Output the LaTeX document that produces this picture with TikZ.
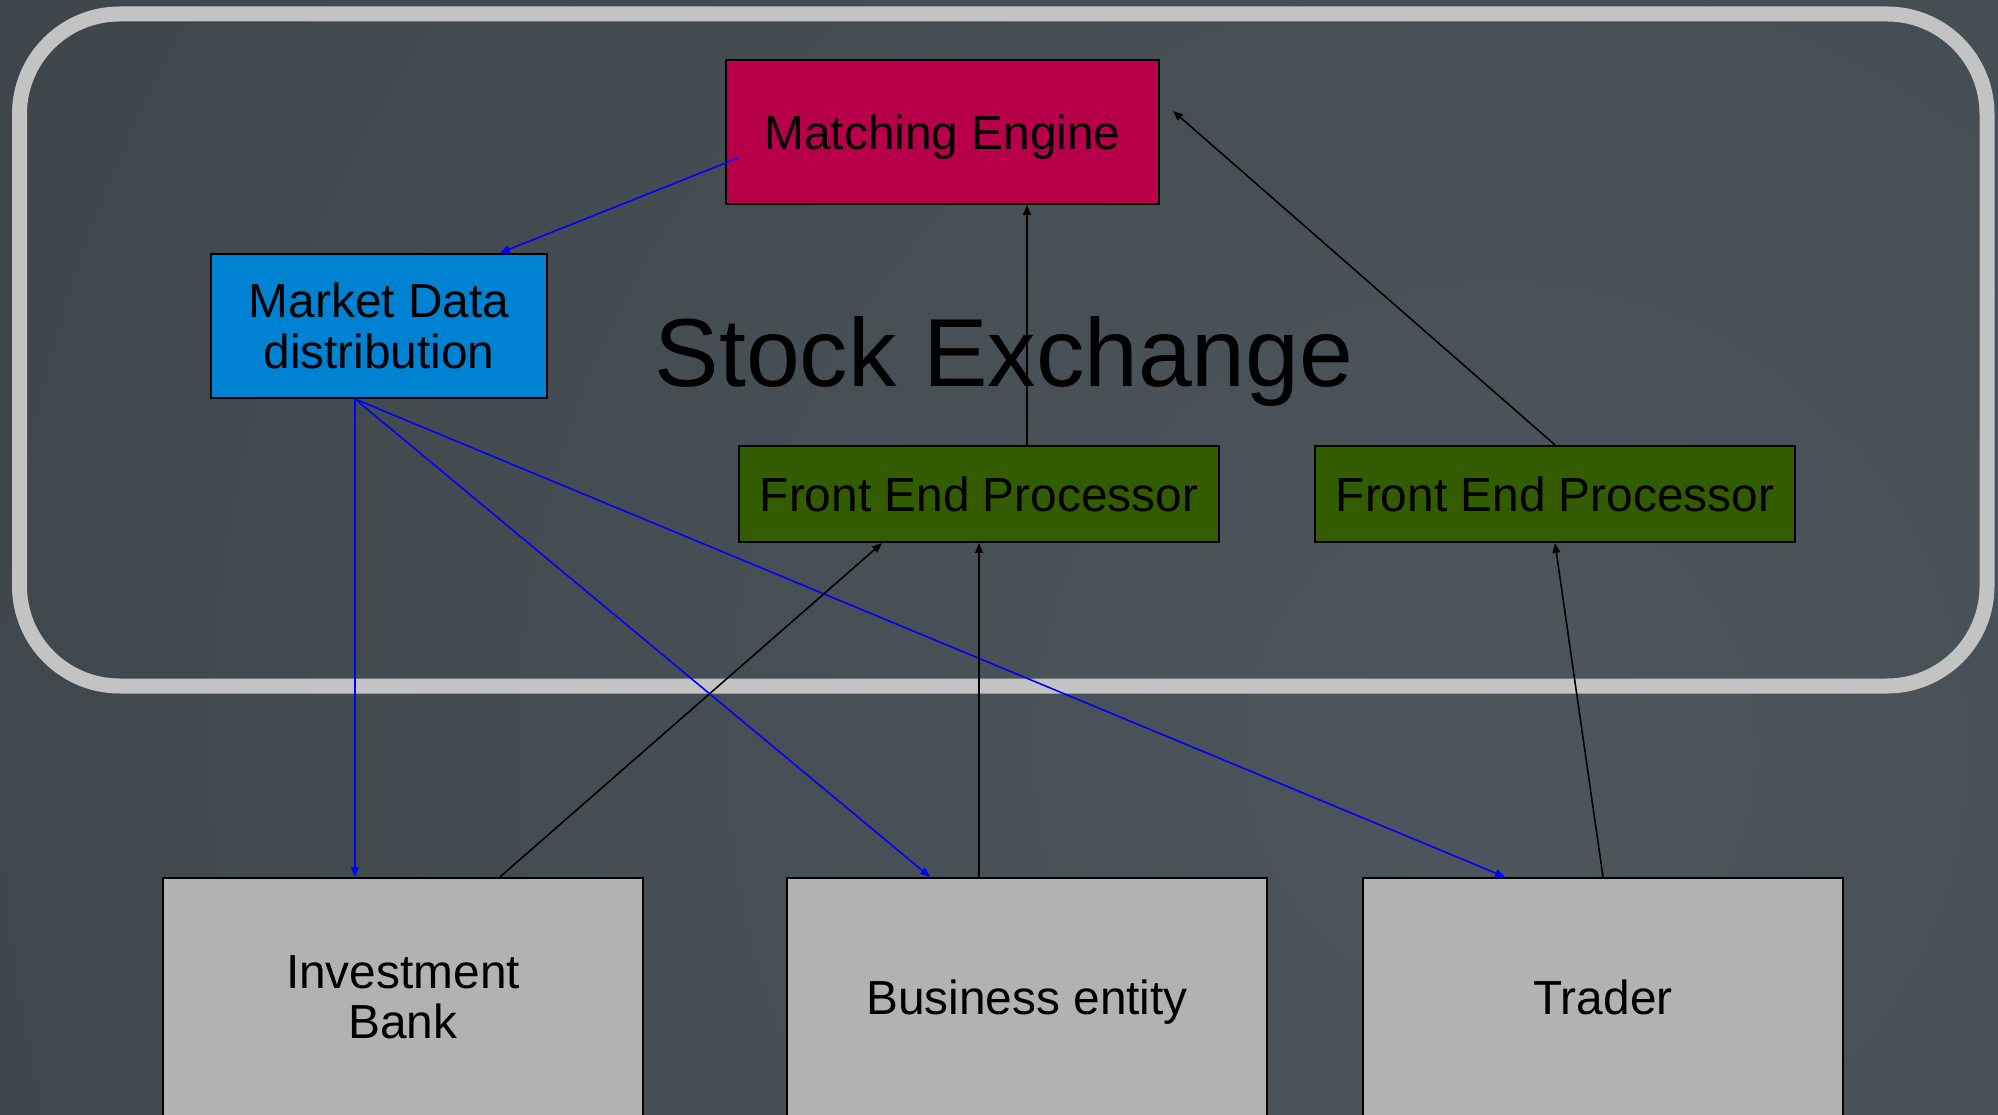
\documentclass[tikz,border=0pt]{standalone}
\usepackage{fontspec}
\setmainfont{Liberation Sans}
\usepackage{xcolor}
\usetikzlibrary{arrows.meta, calc}

\definecolor{bgdark}{HTML}{33393D}
\definecolor{bglight}{HTML}{4C565C}
\definecolor{framegray}{HTML}{C3C3C3}
\definecolor{enginered}{HTML}{B8004A}
\definecolor{feedblue}{HTML}{0082D2}
\definecolor{fepgreen}{HTML}{335C00}
\definecolor{clientgray}{HTML}{B2B2B2}

\begin{document}
\begin{tikzpicture}[
    box/.style={draw, line width=0.6pt, align=center, inner sep=0pt, font=\fontsize{13.6}{14.3}\selectfont},
    client/.style={box, fill=clientgray, minimum width=4.8cm, minimum height=2.38cm},
    fep/.style={box, fill=fepgreen, minimum width=4.8cm, minimum height=0.96cm},
    arrow/.style={-{Triangle[length=2.8pt, width=2.2pt]}, line width=0.45pt},
    feedarrow/.style={arrow, blue}
]

% Background
\useasboundingbox (0,0) rectangle (19.98,-11.15);
\clip (0,0) rectangle (19.98,-11.15);
\fill[bgdark] (0,0) rectangle (19.98,-11.15);
\shade[inner color=bglight, outer color=bgdark] (15,-7.5) circle (30);

% Exchange frame
\draw[framegray, line width=0.15cm, rounded corners=1cm] (0.195,-0.14) rectangle (19.87,-6.86);
\node[anchor=base, font=\fontsize{27.5}{30}\selectfont] (title) at (10.04,-3.87) {Stock Exchange};

% Components
\node[box, fill=enginered, minimum width=4.33cm, minimum height=1.44cm, text depth=0pt] (engine) at (9.425,-1.32) {Matching Engine};
\node[box, fill=feedblue, minimum width=3.36cm, minimum height=1.44cm] (market) at (3.79,-3.26) {Market Data\\distribution};
\node[fep] (fepA) at (9.79,-4.94) {Front End Processor};
\node[fep] (fepB) at (15.55,-4.94) {Front End Processor};

% Clients
\node[client] (bank) at (4.03,-9.97) {Investment\\Bank};
\node[client, text depth=0pt] (business) at (10.27,-9.97) {Business entity};
\node[client] (trader) at (16.03,-9.97) {Trader};

% Market data feed
\draw[feedarrow] ([shift={(0.13,-0.26)}]engine.west) -- ([xshift=1.21cm]market.north);
\draw[feedarrow] ([xshift=-0.24cm]market.south) -- ([xshift=-0.48cm]bank.north);
\draw[feedarrow] ([xshift=-0.24cm]market.south) -- ([xshift=-0.97cm]business.north);
\draw[feedarrow] ([xshift=-0.24cm]market.south) -- ([xshift=-0.98cm]trader.north);

% Orders
\draw[arrow] ([xshift=0.97cm]bank.north) -- ([xshift=-0.97cm]fepA.south);
\draw[arrow] ([xshift=-0.48cm]business.north) -- (fepA.south);
\draw[arrow] (trader.north) -- (fepB.south);
\draw[arrow] ([xshift=0.48cm]fepA.north) -- ([xshift=0.845cm]engine.south);
\draw[arrow] (fepB.north) -- ([shift={(0.13,0.21)}]engine.east);

\end{tikzpicture}
\end{document}
